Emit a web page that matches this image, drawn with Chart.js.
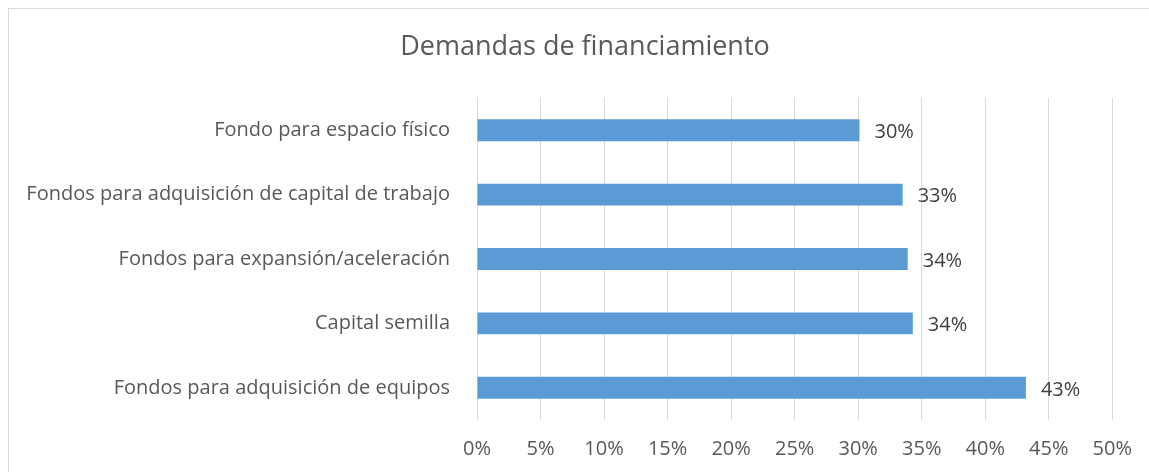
<!DOCTYPE html>
<html>
<head>
<meta charset="utf-8">
<script src="https://cdn.jsdelivr.net/npm/chart.js@4/dist/chart.umd.min.js"></script>
<style>
  html, body { margin: 0; padding: 0; background: #fff; overflow: hidden; }
  #wrap { position: relative; width: 1149px; height: 472px; }
  #frame {
    position: absolute; left: 8px; top: 8px; right: -2px; bottom: -2px;
    border: 1px solid #d9d9d9; pointer-events: none;
  }
  #chart { position: absolute; left: 0; top: 0; }
</style>
</head>
<body>
<div id="wrap">
  <canvas id="chart" width="1149" height="472"></canvas>
  <div id="frame"></div>
</div>
<script>
// -------------------- DATA --------------------
const chartTitle = "Demandas de financiamiento";
const categories = [
  "Fondo para espacio físico",
  "Fondos para adquisición de capital de trabajo",
  "Fondos para expansión/aceleración",
  "Capital semilla",
  "Fondos para adquisición de equipos"
];
const values = [30.1, 33.5, 33.9, 34.3, 43.2];
const valueLabels = ["30%", "33%", "34%", "34%", "43%"];
const tickValues = [0, 5, 10, 15, 20, 25, 30, 35, 40, 45, 50];

const FONT = "'Open Sans', sans-serif";

// título centrado sobre el gráfico completo
const titlePlugin = {
  id: "titlePlugin",
  beforeDraw(chart) {
    const ctx = chart.ctx;
    ctx.save();
    ctx.font = "27px " + FONT;
    ctx.fillStyle = "#595959";
    ctx.textAlign = "center";
    ctx.textBaseline = "middle";
    ctx.fillText(chartTitle, 585, 47);
    ctx.restore();
  }
};

// etiquetas al final de cada barra
const barLabels = {
  id: "barLabels",
  afterDatasetsDraw(chart) {
    const ctx = chart.ctx;
    const meta = chart.getDatasetMeta(0);
    ctx.save();
    ctx.font = "20px " + FONT;
    ctx.fillStyle = "#404040";
    ctx.textAlign = "left";
    ctx.textBaseline = "middle";
    meta.data.forEach((bar, i) => {
      ctx.fillText(valueLabels[i], bar.x + 15, bar.y + 2);
    });
    ctx.restore();
  }
};

new Chart(document.getElementById("chart"), {
  type: "bar",
  data: {
    labels: categories,
    datasets: [{
      data: values,
      backgroundColor: "#5b9bd5",
      borderWidth: 0,
      categoryPercentage: 1,
      barPercentage: 0.34
    }]
  },
  options: {
    indexAxis: "y",
    responsive: false,
    animation: false,
    layout: { padding: { left: 0, right: 35, top: 98, bottom: 11 } },
    plugins: {
      legend: { display: false },
      tooltip: { enabled: false },
      title: { display: false }
    },
    scales: {
      x: {
        min: 0,
        max: 50,
        afterBuildTicks(scale) {
          scale.ticks = tickValues.map(v => ({ value: v }));
        },
        afterFit(scale) { scale.height = 472 - 11 - 420; },
        grid: { color: "#d9d9d9", lineWidth: 1, drawTicks: false },
        border: { display: false },
        ticks: {
          padding: 17,
          color: "#595959",
          font: { family: FONT, size: 20 },
          callback: v => v + "%"
        }
      },
      y: {
        afterFit(scale) { scale.width = 477; },
        grid: { display: false },
        border: { display: false },
        ticks: {
          padding: 19,
          color: "#595959",
          font: { family: FONT, size: 20 }
        }
      }
    }
  },
  plugins: [titlePlugin, barLabels]
});
</script>
</body>
</html>
